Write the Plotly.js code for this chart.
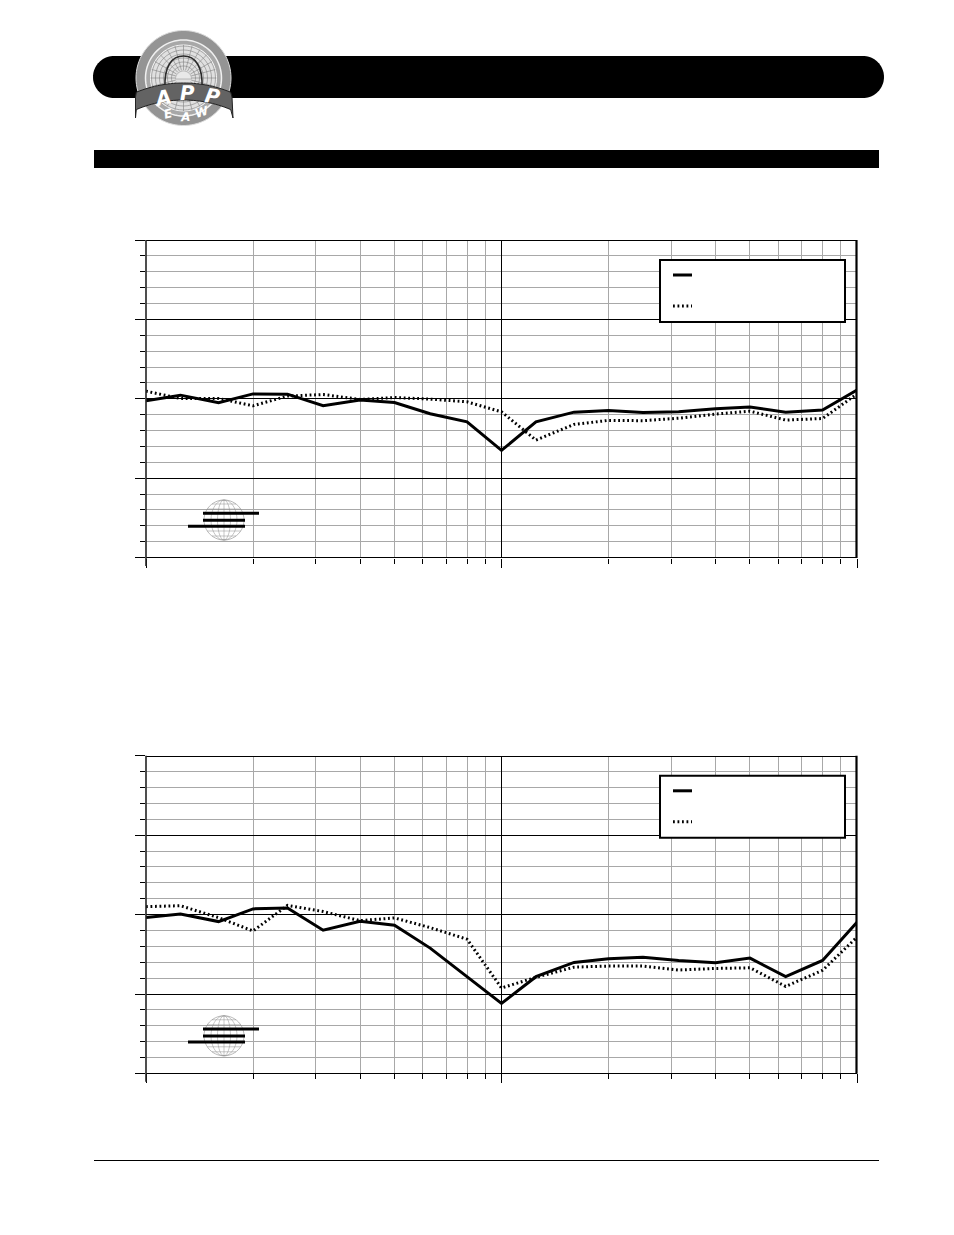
<!DOCTYPE html>
<html>
<head>
<meta charset="utf-8">
<script src="https://cdn.plot.ly/plotly-3.0.1.min.js"></script>
<style>html,body{margin:0;padding:0;background:#fff}#c{width:954px;height:1235px}</style>
</head>
<body>
<div id="c"></div>
<script>
const freqs = [100,125,160,200,250,315,400,500,630,800,1000,1250,1600,2000,2500,3150,4000,5000,6300,8000,10000];
const topSolid = [-0.13,0.23,-0.25,0.31,0.29,-0.44,-0.08,-0.23,-0.94,-1.45,-3.25,-1.45,-0.84,-0.73,-0.86,-0.82,-0.63,-0.52,-0.84,-0.71,0.55];
const topDotted = [0.48,0.02,0.02,-0.44,0.17,0.27,-0.04,0.08,-0.02,-0.19,-0.82,-2.6,-1.61,-1.36,-1.38,-1.22,-0.96,-0.78,-1.34,-1.24,0.3];
const botSolid = [-0.19,0.04,-0.44,0.36,0.42,-0.98,-0.42,-0.67,-2.11,-3.89,-5.59,-3.91,-3.01,-2.78,-2.68,-2.89,-3.03,-2.74,-3.91,-2.89,-0.48];
const botDotted = [0.5,0.56,-0.19,-1.03,0.58,0.19,-0.38,-0.21,-0.82,-1.55,-4.62,-3.95,-3.31,-3.24,-3.24,-3.49,-3.39,-3.35,-4.52,-3.51,-1.42];
const decadeTicks = [100,1000,10000];
const minorTicks = [200,300,400,500,600,700,800,900,2000,3000,4000,5000,6000,7000,8000,9000];

const W = 954, H = 1235;
const GRAY = '#a8a8a8';
const DOT = '1.8px,2.7px';
const px = x => x / W, py = y => 1 - y / H;

function poly(pts, close) {
  return 'M' + pts.map(p => px(p[0]) + ',' + py(p[1])).join('L') + (close ? 'Z' : '');
}
function pathShape(pts, close, fill, color, width) {
  return {type:'path', xref:'paper', yref:'paper', path:poly(pts, close),
          fillcolor: fill || 'rgba(0,0,0,0)', line:{color:color || 'rgba(0,0,0,0)', width:width || 0}};
}
function arc(cx, cy, rx, ry, a0, a1, n) {
  const out = []; n = n || 40;
  for (let i = 0; i <= n; i++) {
    const a = (a0 + (a1 - a0) * i / n) * Math.PI / 180;
    out.push([cx + rx * Math.cos(a), cy + ry * Math.sin(a)]);
  }
  return out;
}
function rect(x0, y0, x1, y1, fill, color, width) {
  return {type:'rect', xref:'paper', yref:'paper', x0:px(x0), x1:px(x1), y0:py(y0), y1:py(y1),
          fillcolor:fill, line:{color:color || 'rgba(0,0,0,0)', width:width || 0}};
}
function hline(x0, x1, y, color, width, dash) {
  return {type:'line', xref:'paper', yref:'paper', x0:px(x0), x1:px(x1), y0:py(y), y1:py(y),
          line:{color:color, width:width, dash:dash || 'solid'}};
}
function vline(x, y0, y1, color, width) {
  return {type:'line', xref:'paper', yref:'paper', x0:px(x), x1:px(x), y0:py(y0), y1:py(y1),
          line:{color:color, width:width}};
}

const shapes = [];
// header bar, section bar, footer rule
shapes.push(pathShape([...arc(114,77,21,21,90,270), ...arc(863,77,21,21,-90,90)], true, '#000'));
shapes.push(rect(94,150,879,168,'#000'));
shapes.push(rect(94,1160,879,1161,'#000'));

// logo
const LX = 183.5, LY = 78;
shapes.push(pathShape(arc(LX,LY,47.5,47.5,0,360,90), true, '#949494', '#dcdcdc', 1));
shapes.push(pathShape(arc(LX,LY,38,38,0,360,80), true, '#a8a8a8', '#f0f0f0', 1.5));
shapes.push(pathShape(arc(LX,LY,33,33,0,360,80), true, '#e0e0e0', '#f4f4f4', 1));
for (let a = 0; a < 360; a += 15) {
  const r = a * Math.PI / 180;
  shapes.push(pathShape([[LX + 8*Math.cos(r), LY + 8*Math.sin(r)], [LX + 33*Math.cos(r), LY + 33*Math.sin(r)]], false, null, '#808080', 0.6));
}
[12,16,20,24,28,32].forEach(r => shapes.push(pathShape(arc(LX,LY,r,r,0,360,48), false, null, '#808080', 0.6)));
shapes.push(pathShape(arc(LX,LY+1,8,8,180,360,20), true, '#e8e8e8', '#999', 0.6));
shapes.push({type:'path', xref:'paper', yref:'paper',
  path:`M${px(165)},${py(88)}C${px(164)},${py(66)} ${px(172)},${py(56)} ${px(183.5)},${py(56)}C${px(195)},${py(56)} ${px(203)},${py(66)} ${px(202)},${py(88)}`,
  line:{color:'#2a2a2a',width:1.6}, fillcolor:'rgba(0,0,0,0)'});
const bandTop = arc(LX,168,104,85,-117,-63,30), bandBot = arc(LX,188,104,88,-63,-117,30);
shapes.push(pathShape([[135.5,97],...bandTop,[232,97],[233,118],...bandBot,[135.5,118]], true, '#636363', '#222', 1));

// plot-area decorations: globe + bars, legend box + samples, frame
function plotDeco(dy) {
  const gx = 224, gy = 520 + dy, r = 20, c = '#8c8c8c';
  shapes.push(pathShape(arc(gx,gy,r,r,0,360,50), true, null, c, 0.6));
  [6.5,13].forEach(w => shapes.push(pathShape(arc(gx,gy,w,r,0,360,36), true, null, c, 0.5)));
  shapes.push(vline(gx,gy-r,gy+r,c,0.5));
  [-16,-11,-6,0,6,11,16].forEach(o => {
    const w = Math.sqrt(r*r - o*o);
    shapes.push(hline(gx-w, gx+w, gy+o, c, 0.5));
  });
  shapes.push(hline(203,259,513.3+dy,'#000',3));
  shapes.push(hline(203,245,520.3+dy,'#000',3));
  shapes.push(hline(188,245,526.3+dy,'#000',3));
  shapes.push(rect(660,260+dy,845,322+dy,'#fff','#000',2));
  shapes.push(hline(673,692,275+dy,'#000',3));
  shapes.push(hline(673,692,306+dy,'#000',3,DOT));
  const ry = Math.round(dy);
  shapes.push(rect(146,240+ry,857,241+ry,'#000'));
  shapes.push(rect(146,557+ry,857,558+ry,'#000'));
  shapes.push(vline(146,240+dy,566+dy,'#222',1.6));
  shapes.push(vline(856.5,240+dy,558+dy,'#000',2.2));
}
plotDeco(0);
plotDeco(515.8);

function xAxis(anchor) {
  return {type:'log', range:[2,4], domain:[px(146),px(857)], anchor, showline:false,
    fixedrange:true, showticklabels:false,
    tickmode:'array', tickvals:decadeTicks, ticks:'outside', ticklen:9, tickcolor:'#000', tickwidth:1,
    showgrid:true, gridcolor:'#000', gridwidth:1, zeroline:false,
    minor:{tickmode:'array', tickvals:minorTicks, ticks:'outside', ticklen:5, tickcolor:'#000', tickwidth:1,
           showgrid:true, gridcolor:GRAY, gridwidth:1}};
}
function yAxis(anchor, top, bottom) {
  return {range:[-10,10], domain:[py(bottom),py(top)], anchor, showline:false,
    fixedrange:true, showticklabels:false,
    tickmode:'linear', tick0:-10, dtick:5, ticks:'outside', ticklen:10, tickcolor:'#000', tickwidth:1,
    showgrid:true, gridcolor:'#000', gridwidth:1, zeroline:false,
    minor:{tickmode:'linear', tick0:-10, dtick:1, ticks:'outside', ticklen:5, tickcolor:'#000', tickwidth:1,
           showgrid:true, gridcolor:GRAY, gridwidth:1}};
}
function line(y, dotted, xa, ya, name) {
  return {x:freqs, y, xaxis:xa, yaxis:ya, name, type:'scatter', mode:'lines', hoverinfo:'skip',
    line: dotted ? {color:'#000', width:3, dash:DOT} : {color:'#000', width:3}};
}
const white = {color:'#fff', family:'"DejaVu Sans", sans-serif'};
function letter(t, x, y, size, rot) {
  return {text:'<b><i>'+t+'</i></b>', xref:'paper', yref:'paper', x:px(x), y:py(y), showarrow:false,
    font:{...white, size}, textangle:rot, xanchor:'center', yanchor:'middle'};
}
const annotations = [
  letter('A',162,98,20,-12), letter('P',187,93,20,-1), letter('P',212,96,20,10),
  letter('E',168,114,12,-14), letter('A',185,117,12,-2), letter('W',202,112,12,-18)
];

Plotly.newPlot('c', [
  line(topSolid,false,'x','y','Top solid'),
  line(topDotted,true,'x','y','Top dotted'),
  line(botSolid,false,'x2','y2','Bottom solid'),
  line(botDotted,true,'x2','y2','Bottom dotted')
], {
  width:W, height:H, margin:{l:0,r:0,t:0,b:0,pad:0}, showlegend:false,
  paper_bgcolor:'#fff', plot_bgcolor:'#fff',
  xaxis:xAxis('y'), yaxis:yAxis('x',240,557.6),
  xaxis2:xAxis('y2'), yaxis2:yAxis('x2',755.8,1073.4),
  shapes, annotations
}, {staticPlot:true, displayModeBar:false});
</script>
</body>
</html>
